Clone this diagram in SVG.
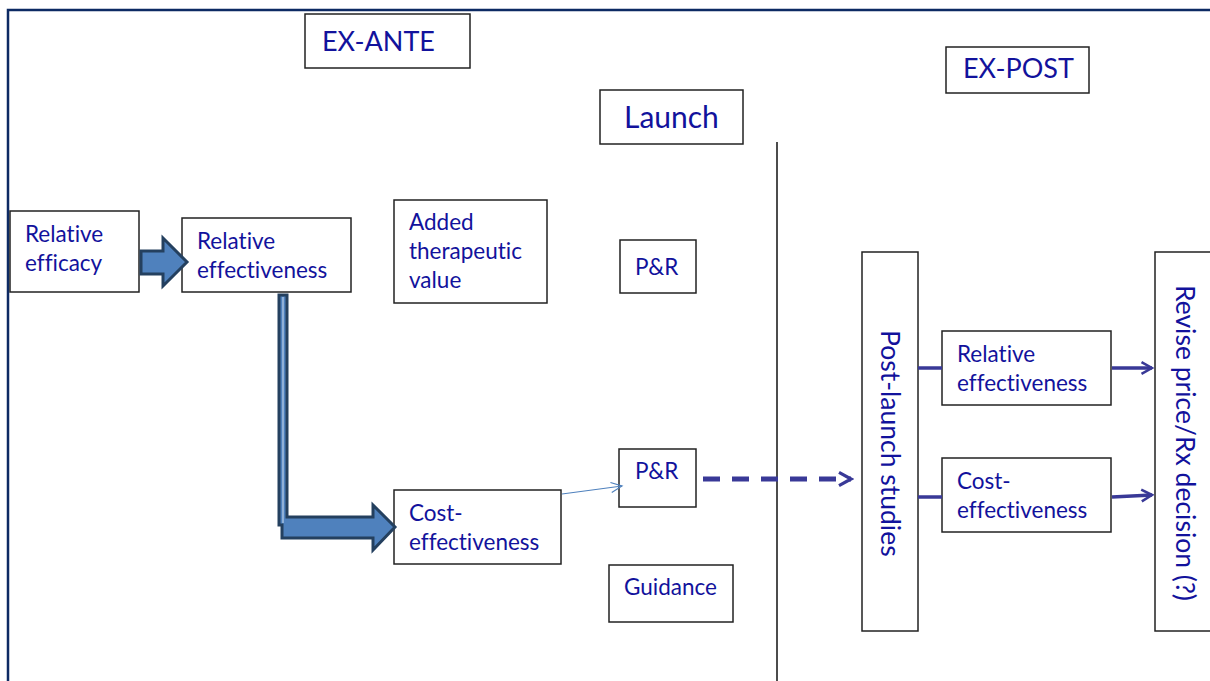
<svg xmlns="http://www.w3.org/2000/svg" width="1210" height="681" viewBox="0 0 1210 681">
<style>
text{font-variant-ligatures:none;font-family:Lato,"Liberation Sans",sans-serif;fill:#12129c}
.box{fill:#fff;stroke:#222;stroke-width:1.5}
.t{font-size:22.5px}
.tl{font-size:27px}
.tla{font-size:30px}
.tv{font-size:26.5px}
.blk{fill:#4f81bd;stroke:#24405f;stroke-width:3;stroke-linejoin:miter}
.ln{fill:none;stroke:#393997;stroke-width:3.5}
.dash{fill:none;stroke:#393997;stroke-width:5;stroke-dasharray:17,12}
</style>
<defs>
<marker id="chev" viewBox="0 0 12 12" refX="10" refY="6" markerWidth="16" markerHeight="20" orient="auto" markerUnits="userSpaceOnUse">
<path d="M1,1 L10,6 L1,11" fill="none" stroke="#393997" stroke-width="2.4"/>
</marker>
<marker id="chev2" viewBox="0 0 12 12" refX="10" refY="6" markerWidth="14" markerHeight="16" orient="auto" markerUnits="userSpaceOnUse">
<path d="M1,1 L10,6 L1,11" fill="none" stroke="#393997" stroke-width="2.2"/>
</marker>
<marker id="thin" viewBox="0 0 12 12" refX="11" refY="6" markerWidth="16" markerHeight="12" orient="auto" markerUnits="userSpaceOnUse">
<path d="M0,1 L11,6 L0,11" fill="none" stroke="#4f81bd" stroke-width="1.2"/>
</marker>
</defs>
<rect x="0" y="0" width="1210" height="681" fill="#fff"/>
<g id="frame" fill="none" stroke="#0d2a63" stroke-width="2.5">
<path d="M8,681 L8,10 L1210,10"/>
</g>
<line x1="777" y1="142" x2="777" y2="681" stroke="#111" stroke-width="1.5"/>

<g id="ex-ante"><rect class="box" x="305" y="14" width="165" height="54"/><text class="tl" x="322" y="51">EX-ANTE</text></g>
<g id="launch"><rect class="box" x="600" y="90" width="143" height="54"/><text class="tla" x="624" y="128">Launch</text></g>
<g id="ex-post"><rect class="box" x="946" y="47" width="143" height="46"/><text class="tl" x="963" y="78">EX-POST</text></g>

<g id="rel-efficacy"><rect class="box" x="10" y="211" width="129" height="81"/><text class="t" x="25" y="242">Relative</text><text class="t" x="25" y="271">efficacy</text></g>
<g id="rel-effectiveness"><rect class="box" x="182" y="218" width="169" height="74"/><text class="t" x="197" y="249">Relative</text><text class="t" x="197" y="278">effectiveness</text></g>
<g id="added-value"><rect class="box" x="394" y="200" width="153" height="103"/><text class="t" x="409" y="230">Added</text><text class="t" x="409" y="259">therapeutic</text><text class="t" x="409" y="288">value</text></g>
<g id="pr-top"><rect class="box" x="620" y="240" width="76" height="53"/><text class="t" x="635" y="275">P&amp;R</text></g>
<g id="pr-bottom"><rect class="box" x="619" y="449" width="77" height="58"/><text class="t" x="635" y="479">P&amp;R</text></g>
<g id="cost-eff"><rect class="box" x="394" y="490" width="167" height="74"/><text class="t" x="409" y="521">Cost-</text><text class="t" x="409" y="550">effectiveness</text></g>
<g id="guidance"><rect class="box" x="609" y="565" width="124" height="57"/><text class="t" x="624" y="595">Guidance</text></g>

<g id="post-launch"><rect class="box" x="862" y="252" width="56" height="379"/><text class="tv" transform="translate(881,330) rotate(90)">Post-launch studies</text></g>
<g id="rel-eff-post"><rect class="box" x="942" y="331" width="169" height="74"/><text class="t" x="957" y="362">Relative</text><text class="t" x="957" y="391">effectiveness</text></g>
<g id="cost-eff-post"><rect class="box" x="942" y="458" width="169" height="74"/><text class="t" x="957" y="489">Cost-</text><text class="t" x="957" y="518">effectiveness</text></g>
<g id="revise"><rect class="box" x="1155" y="252" width="60" height="379"/><text class="tv" transform="translate(1176,285) rotate(90)">Revise price/Rx decision (?)</text></g>

<g id="connectors">
<polygon class="blk" points="141,251 163,251 163,238 187,262 163,286 163,274 141,274"/>
<polygon class="blk" points="279,295 287,295 287,517 373,517 373,505 395,527 373,550 373,538 282,538 282,525 279,525"/>
<line x1="283" y1="297" x2="283" y2="523" stroke="#8fb0d8" stroke-width="2"/>
<line x1="562" y1="494" x2="622" y2="486" stroke="#4f81bd" stroke-width="1.2" marker-end="url(#thin)"/>
<line x1="703" y1="479" x2="851" y2="479" class="dash" marker-end="url(#chev)"/>
<line x1="918" y1="368" x2="942" y2="368" class="ln"/>
<line x1="918" y1="497" x2="942" y2="497" class="ln"/>
<line x1="1112" y1="368" x2="1152" y2="368" class="ln" marker-end="url(#chev2)"/>
<line x1="1112" y1="497" x2="1152" y2="495" class="ln" marker-end="url(#chev2)"/>
</g>
</svg>
